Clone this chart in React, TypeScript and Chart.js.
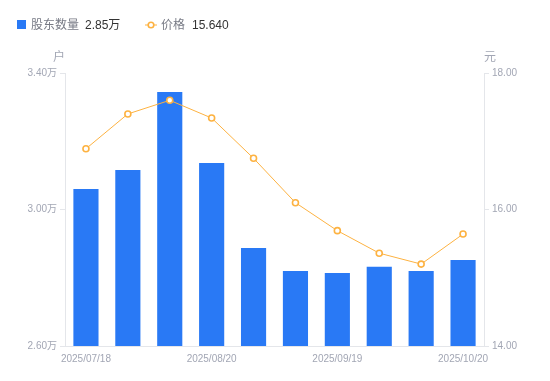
import React, { useEffect, useRef } from "react";
import { Chart, registerables } from "chart.js";

Chart.register(...registerables);

const dates = [
  "2025/07/18", "2025/07/31", "2025/08/10", "2025/08/20", "2025/08/31",
  "2025/09/10", "2025/09/19", "2025/09/30", "2025/10/10", "2025/10/20",
];
const holders = [3.06, 3.116, 3.344, 3.136, 2.887, 2.82, 2.814, 2.832, 2.82, 2.852];
const prices = [16.89, 17.4, 17.6, 17.34, 16.75, 16.1, 15.69, 15.36, 15.2, 15.64];
const holderTicks = [2.6, 3.0, 3.4];
const priceTicks = [14, 16, 18];
const legendHolderLabel = "股东数量";
const legendHolderValue = "2.85万";
const legendPriceLabel = "价格";
const legendPriceValue = "15.640";
const leftUnit = "户";
const rightUnit = "元";

const FONT = '"Liberation Sans", "Noto Sans CJK SC", sans-serif';
const BLUE = "#2979f5";
const ORANGE = "#fdb241";
const TICK_COLOR = "#a2a6b4";
const AXIS_COLOR = "#e4e6ea";

const overlayPlugin = {
  id: "overlay",
  afterDraw(chart: any) {
    const ctx = chart.ctx;
    ctx.save();
    ctx.textBaseline = "middle";
    ctx.font = `12px ${FONT}`;
    // legend 1
    ctx.fillStyle = BLUE;
    ctx.fillRect(17, 20, 9, 9);
    ctx.textAlign = "left";
    ctx.fillStyle = "#777a85";
    ctx.fillText(legendHolderLabel, 31, 26);
    ctx.fillStyle = "#333333";
    ctx.fillText(legendHolderValue, 85, 26);
    // legend 2
    ctx.strokeStyle = ORANGE;
    ctx.lineWidth = 1;
    ctx.beginPath();
    ctx.moveTo(145, 25);
    ctx.lineTo(157, 25);
    ctx.stroke();
    ctx.beginPath();
    ctx.arc(151, 25, 2.8, 0, Math.PI * 2);
    ctx.fillStyle = "#fff";
    ctx.fill();
    ctx.lineWidth = 1.6;
    ctx.stroke();
    ctx.fillStyle = "#777a85";
    ctx.fillText(legendPriceLabel, 161, 26);
    ctx.fillStyle = "#333333";
    ctx.fillText(legendPriceValue, 192, 26);
    // units
    ctx.fillStyle = TICK_COLOR;
    ctx.textAlign = "center";
    ctx.fillText(leftUnit, 59, 58);
    ctx.fillText(rightUnit, 490, 58);
    ctx.restore();
  },
};

export default function App() {
  const ref = useRef<HTMLCanvasElement>(null);
  useEffect(() => {
    if (!ref.current) return;
    const chart = new Chart(ref.current, {
      type: "bar",
      data: {
        labels: dates,
        datasets: [
          {
            type: "line" as any,
            label: legendPriceLabel,
            data: prices,
            yAxisID: "y1",
            borderColor: ORANGE,
            borderWidth: 1,
            pointRadius: 3,
            pointBorderWidth: 1.6,
            pointBackgroundColor: "#ffffff",
            pointBorderColor: ORANGE,
            tension: 0,
            order: 0,
          } as any,
          {
            type: "bar",
            label: legendHolderLabel,
            data: holders,
            yAxisID: "y",
            backgroundColor: BLUE,
            borderWidth: 0,
            barPercentage: 0.6,
            categoryPercentage: 1,
            order: 1,
          },
        ],
      },
      options: {
        animation: false,
        responsive: true,
        maintainAspectRatio: false,
        layout: { padding: { top: 73, left: 0, right: 0, bottom: 0 } },
        plugins: { legend: { display: false }, tooltip: { enabled: false } },
        scales: {
          x: {
            grid: { display: false, drawTicks: false, tickLength: 0 },
            border: { display: true, color: AXIS_COLOR },
            ticks: {
              autoSkip: false,
              maxRotation: 0,
              color: TICK_COLOR,
              font: { size: 10, family: FONT },
              padding: 7,
              callback: (_v: any, i: number) => (i % 3 === 0 ? dates[i] : ""),
            },
            afterFit: (s: any) => { s.height = 35; },
          },
          y: {
            position: "left",
            min: holderTicks[0],
            max: holderTicks[holderTicks.length - 1],
            afterBuildTicks: (s: any) => { s.ticks = holderTicks.map((v) => ({ value: v })); },
            grid: { display: true, drawOnChartArea: false, drawTicks: true, tickLength: 5, color: AXIS_COLOR },
            border: { display: true, color: AXIS_COLOR },
            ticks: {
              color: TICK_COLOR,
              font: { size: 10, family: FONT },
              padding: 3,
              callback: (v: any) => Number(v).toFixed(2) + "万",
            },
            afterFit: (s: any) => { s.width = 65; },
          },
          y1: {
            position: "right",
            min: priceTicks[0],
            max: priceTicks[priceTicks.length - 1],
            afterBuildTicks: (s: any) => { s.ticks = priceTicks.map((v) => ({ value: v })); },
            grid: { display: true, drawOnChartArea: false, drawTicks: true, tickLength: 5, color: AXIS_COLOR },
            border: { display: true, color: AXIS_COLOR },
            ticks: {
              color: TICK_COLOR,
              font: { size: 10, family: FONT },
              padding: 3,
              callback: (v: any) => Number(v).toFixed(2),
            },
            afterFit: (s: any) => { s.width = 66; },
          },
        },
      } as any,
      plugins: [overlayPlugin],
    });
    return () => chart.destroy();
  }, []);
  return (
    <div style={{ position: "fixed", left: 0, top: 0, width: 550, height: 381 }}>
      <canvas ref={ref} />
    </div>
  );
}
